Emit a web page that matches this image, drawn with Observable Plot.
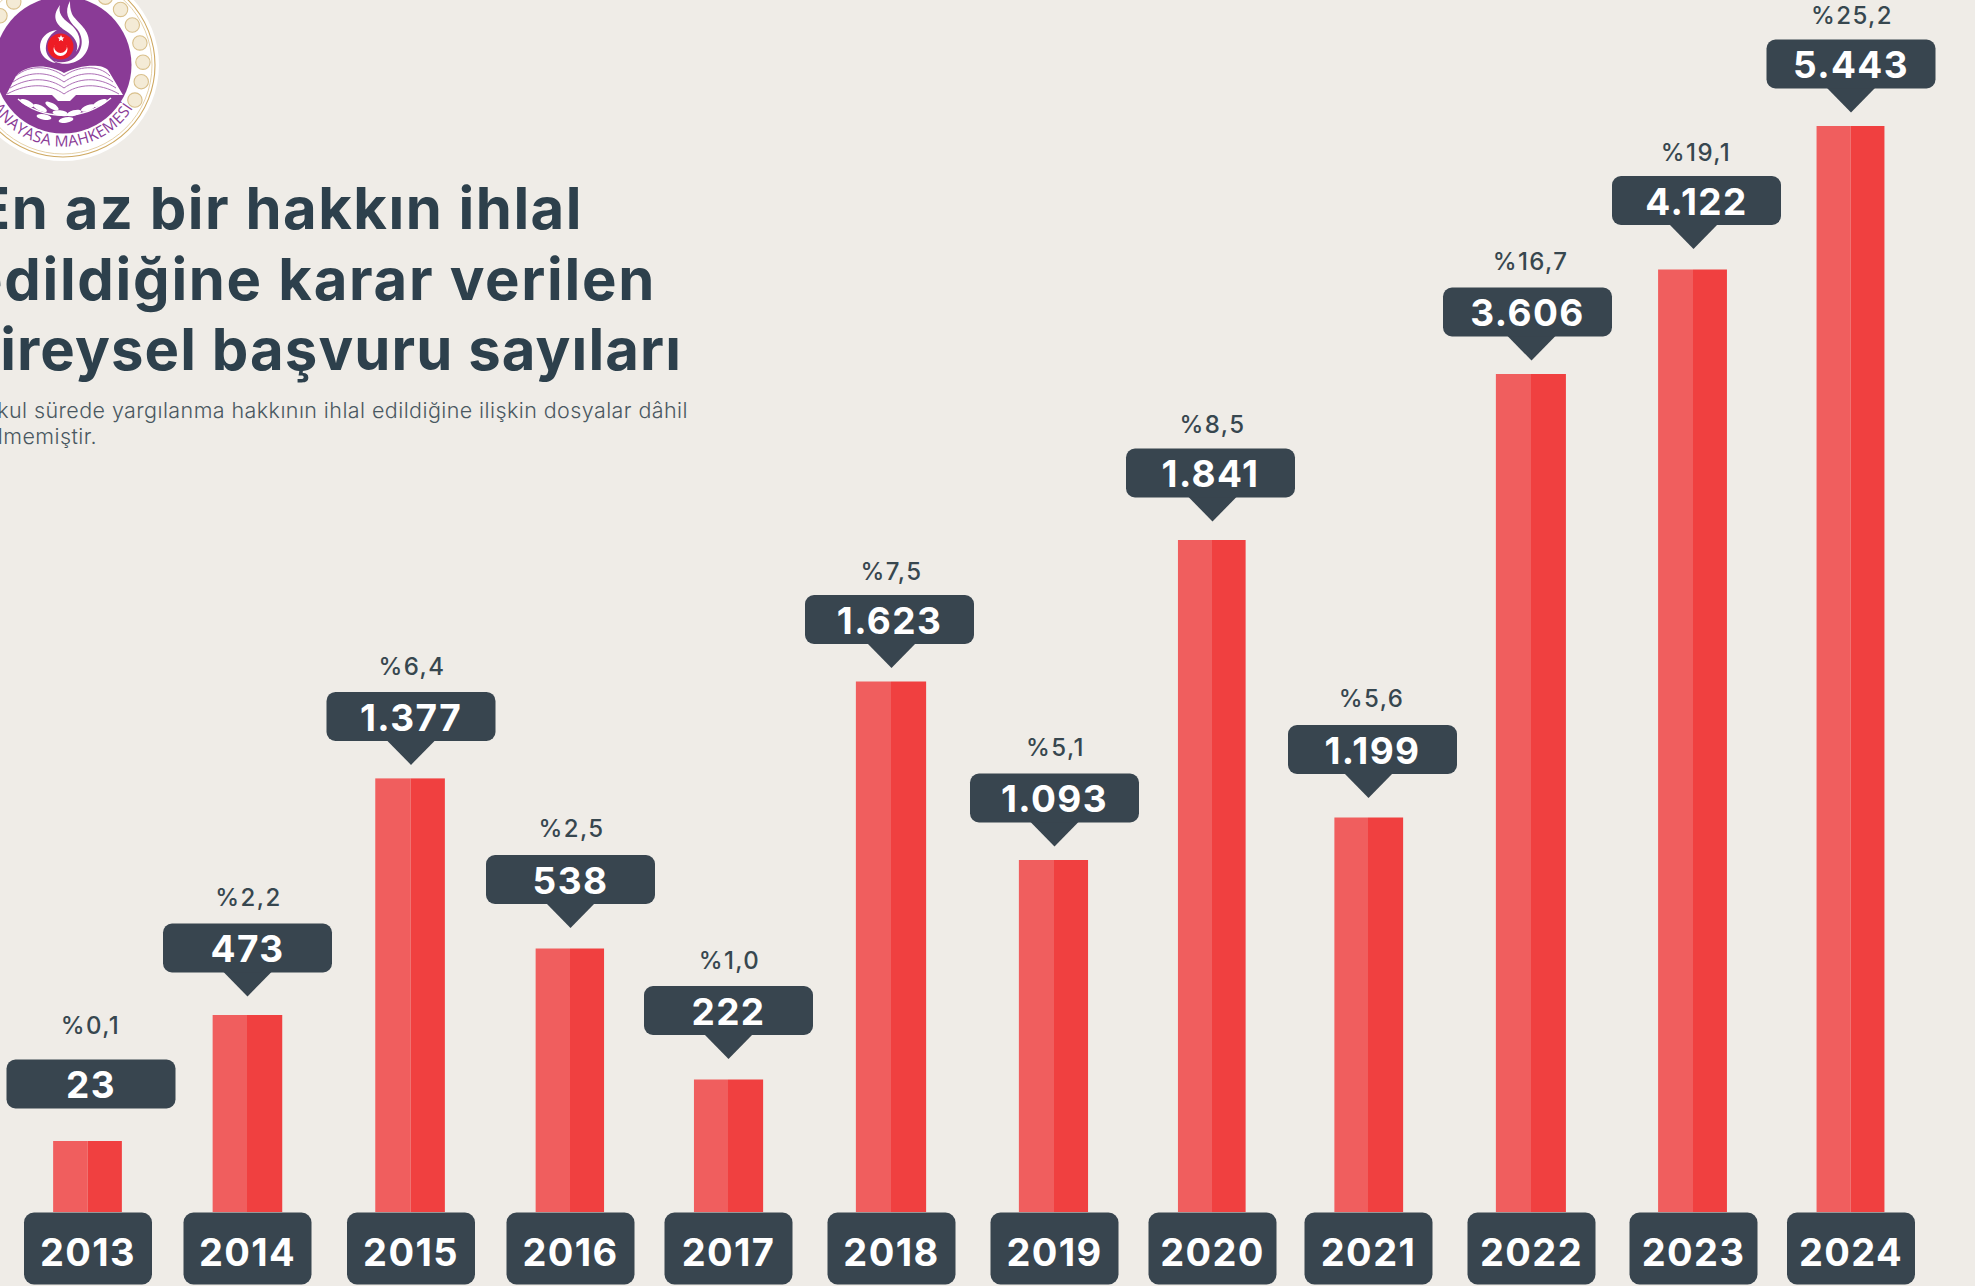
<!DOCTYPE html>
<html lang="tr">
<head>
<meta charset="utf-8">
<script src="https://cdn.jsdelivr.net/npm/d3@7"></script>
<script src="https://cdn.jsdelivr.net/npm/@observablehq/plot@0.6"></script>
<style>
  html, body { margin: 0; padding: 0; background: #EFECE7; width: 1975px; height: 1286px; overflow: hidden; position: relative; }
  #chart { position: absolute; left: 0; top: 0; }
  #chart text { letter-spacing: 1.4px; }
  .t { position: absolute; white-space: nowrap; font-family: Inter, sans-serif; }
  .title { font-weight: 700; font-size: 58px; line-height: 70px; color: #2D404C; }
  .sub { font-weight: 300; font-size: 21.5px; line-height: 26px; color: #4A5861; letter-spacing: 0.42px; }
  #logo { position: absolute; left: 0; top: 0; }
</style>
</head>
<body>
<svg id="logo" width="170" height="170" viewBox="0 0 170 170"></svg>
<div id="chart"></div>
<div class="t title" style="right:1392px;top:172.5px;letter-spacing:1.5px">En az bir hakkın ihlal</div>
<div class="t title" style="right:1319px;top:243.5px;letter-spacing:1.7px">edildiğine karar verilen</div>
<div class="t title" style="right:1293px;top:313.5px;letter-spacing:1.1px">bireysel başvuru sayıları</div>
<div class="t sub" style="right:1287px;top:397px">Makul sürede yargılanma hakkının ihlal edildiğine ilişkin dosyalar dâhil</div>
<div class="t sub" style="right:1878px;top:423px">edilmemiştir.</div>
<script>
// ---- chart values ----
const years   = [2013, 2014, 2015, 2016, 2017, 2018, 2019, 2020, 2021, 2022, 2023, 2024];
const counts  = [23, 473, 1377, 538, 222, 1623, 1093, 1841, 1199, 3606, 4122, 5443];
const shares  = [0.1, 2.2, 6.4, 2.5, 1.0, 7.5, 5.1, 8.5, 5.6, 16.7, 19.1, 25.2];

const table = years.map((year, i) => ({year, count: counts[i], share: shares[i]}));
const fmt = d3.formatLocale({decimal: ",", thousands: ".", grouping: [3], currency: ["", ""]}).format(",d");
const pct = v => "%" + v.toFixed(1).replace(".", ",");

// The published bars are not drawn proportionally, so the scales are piecewise.
const xScale = {
  type: "linear", axis: null,
  domain: years,
  range: [87.5, 247, 410.5, 570, 728, 891, 1054, 1212, 1368, 1531, 1693, 1850.5]
};
const yScale = {
  type: "linear", axis: null,
  domain: [0, 23, 222, 473, 538, 1093, 1199, 1377, 1623, 1841, 3606, 4122, 5443],
  range: [1212, 1141, 1079.5, 1015, 948.5, 860, 817.5, 778.4, 681.5, 540, 374, 269.5, 126]
};

// Rounded rectangle symbol.
function roundBox(w, h, r) {
  return {
    draw(c) {
      const x0 = -w / 2, x1 = w / 2, y0 = -h / 2, y1 = h / 2;
      c.moveTo(x0 + r, y0);
      c.arcTo(x1, y0, x1, y1, r);
      c.arcTo(x1, y1, x0, y1, r);
      c.arcTo(x0, y1, x0, y0, r);
      c.arcTo(x0, y0, x1, y0, r);
      c.closePath();
    }
  };
}
// Downward pointer; its origin is the tip.
const pointer = {
  draw(c) {
    c.moveTo(0, 0);
    c.lineTo(-24.5, -25);
    c.lineTo(24.5, -25);
    c.closePath();
  }
};
const ink = "#38454F";
const valueBox = roundBox(169, 49, 9);
const yearBox = roundBox(128, 72, 10);
const sans = "Inter, sans-serif";

// Callouts sit at slightly different gaps and offsets over the bars in the source.
const gapOf = y => y === 2013 ? 82 : [2015, 2018, 2019, 2022, 2024].includes(y) ? 87 : [2016, 2017, 2023].includes(y) ? 94 : y === 2021 ? 93 : 92;
const shiftOf = y => [2013, 2023].includes(y) ? 3 : y === 2021 ? 4 : [2018, 2020].includes(y) ? -2 : y === 2022 ? -4 : 0;
const labelGapOf = y => y === 2013 ? 33 : [2018, 2020, 2023, 2024].includes(y) ? 23 : [2016, 2021].includes(y) ? 26 : 25;

function callout(rows, gap, shift, labelGap) {
  const year = rows[0].year;
  return [
    year === 2013 ? null : Plot.dot(rows, {x: "year", y: "count", symbol: () => pointer, r: 10, fill: ink, stroke: "none", dy: -(gap - 73)}),
    Plot.dot(rows, {x: "year", y: "count", symbol: () => valueBox, r: 10, fill: ink, stroke: "none", dx: shift, dy: -(gap - 24.5)}),
    Plot.text(rows, {x: "year", y: "count", text: d => fmt(d.count), fill: "#fff", fontSize: 37, fontWeight: 700,
      fontFamily: sans, dx: shift, dy: -(gap - 24.5) + 2.5}),
    Plot.text(rows, {x: "year", y: "count", text: d => pct(d.share), fill: "#37474F", fontSize: 24, fontWeight: 500,
      fontFamily: sans, dx: shift * 0.5 + 1, dy: -(gap + labelGap)})
  ];
}
const callouts = table.flatMap(d => callout([d], gapOf(d.year), shiftOf(d.year), labelGapOf(d.year)));

const halfBar = 0.2155;
const plot = Plot.plot({
  width: 1975, height: 1286,
  marginTop: 0, marginRight: 0, marginBottom: 0, marginLeft: 0,
  style: {background: "transparent", overflow: "visible"},
  x: xScale, y: yScale,
  marks: [
    Plot.rect(table, {x1: d => d.year - halfBar, x2: "year", y1: () => 0, y2: "count", fill: "#F05E5E"}),
    Plot.rect(table, {x1: "year", x2: d => d.year + halfBar, y1: () => 0, y2: "count", fill: "#F04040"}),
    Plot.dot(table, {x: "year", y: () => 0, symbol: () => yearBox, r: 10, fill: ink, stroke: "none", dy: 36}),
    Plot.text(table, {x: "year", y: () => 0, text: d => String(d.year), fill: "#fff", fontSize: 38, fontWeight: 700,
      fontFamily: sans, dy: 41}),
    ...callouts
  ]
});
document.getElementById("chart").append(plot);

// ---- emblem in the top-left corner (cropped by the window in the source) ----
const cx = 63, cy = 65;
const L = d3.select("#logo");
L.append("circle").attr("cx", cx).attr("cy", cy).attr("r", 96).attr("fill", "#fff");
L.append("circle").attr("cx", cx).attr("cy", cy).attr("r", 92).attr("fill", "none").attr("stroke", "#CFA962").attr("stroke-width", 1.1);
L.append("circle").attr("cx", cx).attr("cy", cy).attr("r", 89).attr("fill", "none").attr("stroke", "#DFC793").attr("stroke-width", 0.8);
for (let a = -170; a <= 28; a += 14) {
  const t = a * Math.PI / 180;
  L.append("circle").attr("cx", cx + 80 * Math.cos(t)).attr("cy", cy + 80 * Math.sin(t)).attr("r", 7.2)
    .attr("fill", "#F4EBD6").attr("stroke", "#D9C08C").attr("stroke-width", 1.1);
}
L.append("circle").attr("cx", cx).attr("cy", cy).attr("r", 68.5).attr("fill", "#8A3B96");
// flame
[
  "M70 1 C64 12 68 20 76 28 C84 36 84 50 74 58 C68 63 60 63 54 61 C66 68 88 62 89 42 C89 28 76 22 72 14 C70 9 70 5 70 1Z",
  "M60 5 C50 18 58 26 66 31 C74 36 80 44 76 52 C84 42 78 30 70 24 C62 18 58 13 60 5Z",
  "M57 30 C46 31 40 39 40 47 C40 56 48 62 56 63 C48 58 45 52 46 46 C47 38 52 33 57 30Z"
].forEach(d => L.append("path").attr("fill", "#fff").attr("d", d));
L.append("circle").attr("cx", 60.5).attr("cy", 46.5).attr("r", 13).attr("fill", "#EE1C25");
L.append("circle").attr("cx", 60.5).attr("cy", 49).attr("r", 7).attr("fill", "#fff");
L.append("circle").attr("cx", 60.5).attr("cy", 46.5).attr("r", 6.5).attr("fill", "#EE1C25");
L.append("path").attr("fill", "#fff").attr("d", "M61 35 l1 2.2 2.4.2 -1.8 1.5 .6 2.4 -2.2-1.3 -2.2 1.3 .6-2.4 -1.8-1.5 2.4-.2Z");
// book
L.append("path").attr("fill", "#fff").attr("d", "M16 76 C28 63 50 65 64 73 C78 65 102 63 108 70 L123 95 L6 95 Z");
L.append("path").attr("fill", "#fff").attr("d", "M52 95 L76 95 L70 101 L58 101 Z");
[70, 76, 82, 88].forEach(a => {
  L.append("path").attr("fill", "none").attr("stroke", "#A35DAD").attr("stroke-width", 0.9)
    .attr("d", `M${16 - (a - 70) * 0.5} ${a + 6} C30 ${a - 6} 50 ${a - 4} 64 ${a + 6} C78 ${a - 4} 98 ${a - 6} ${110 + (a - 70) * 0.5} ${a + 6}`);
});
// olive branch
L.append("path").attr("fill", "none").attr("stroke", "#fff").attr("stroke-width", 1.4).attr("d", "M18 99 C40 118 80 124 111 98");
[[27, 103, 25], [40, 108, 25], [52, 106, 30], [44, 117, 10], [60, 113, 5], [74, 113, -15], [88, 108, -20], [100, 103, -25], [66, 120, -10]].forEach(([x, y, r]) => {
  L.append("ellipse").attr("cx", x).attr("cy", y).attr("rx", 7.5).attr("ry", 2.8).attr("fill", "#fff")
    .attr("transform", `rotate(${r} ${x} ${y})`);
});
// ring lettering
L.append("defs").append("path").attr("id", "ringArc").attr("d", `M ${cx - 79} ${cy + 24} A 83 83 0 0 0 ${cx + 79} ${cy + 24}`);
L.append("text").attr("font-family", "'Open Sans', sans-serif").attr("font-size", 15.5).attr("letter-spacing", 0.4).attr("fill", "#8A3B96")
  .append("textPath").attr("href", "#ringArc").attr("startOffset", "50%").attr("text-anchor", "middle").text("ANAYASA MAHKEMESİ");
</script>
</body>
</html>
